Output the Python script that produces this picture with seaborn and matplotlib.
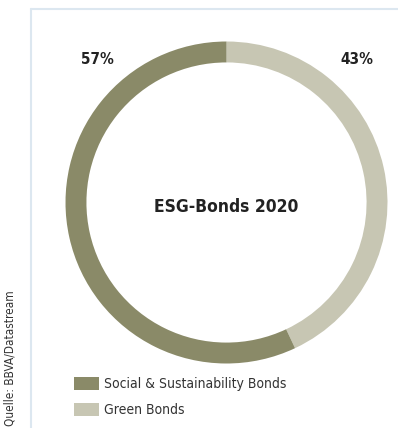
import matplotlib
matplotlib.use("Agg")
import matplotlib.pyplot as plt
import seaborn as sns
from matplotlib.patches import Rectangle
from matplotlib.lines import Line2D

categories = ["Social & Sustainability Bonds", "Green Bonds"]
values = [57, 43]
pct_labels = ["57%", "43%"]
title = "ESG-Bonds 2020"
source = "Quelle: BBVA/Datastream"

sns.set_theme(style="white")
FONT = ["DejaVu Sans"]
plt.rcParams["font.family"] = FONT
plt.rcParams["font.stretch"] = "condensed"
colors = ["#8a8a68", "#c7c6b3"]

W, H = 398, 428
fig = plt.figure(figsize=(W / 100, H / 100), dpi=100)
fig.patch.set_facecolor("white")

frame_col = "#dce7f0"
fig.add_artist(Line2D([31 / W, 1], [1 - 9 / H, 1 - 9 / H], color=frame_col, lw=1.5))
fig.add_artist(Line2D([31 / W, 31 / W], [0, 1 - 9 / H], color=frame_col, lw=1.5))

cx, cy, R = 226.5, 202.5, 161
ax = fig.add_axes([(cx - R) / W, (H - cy - R) / H, 2 * R / W, 2 * R / H])
pal = sns.color_palette(colors)
ax.pie(values[::-1], colors=pal[::-1], startangle=90, counterclock=False,
       radius=1, wedgeprops=dict(width=0.13, edgecolor="none"))
ax.set_xlim(-1, 1)
ax.set_ylim(-1, 1)
ax.set_aspect("equal")
ax.axis("off")

kw = dict(family=FONT, fontstretch="condensed")
ax.text(0, -0.03, title, ha="center", va="center", fontsize=12.5, fontweight="bold",
        color="#222222", **kw)

fig.text(97 / W, 1 - 60 / H, pct_labels[0], ha="center", va="center", fontsize=11,
         fontweight="bold", color="#222222", **kw)
fig.text(357 / W, 1 - 60 / H, pct_labels[1], ha="center", va="center", fontsize=11,
         fontweight="bold", color="#222222", **kw)

for i, (cat, col) in enumerate(zip(categories, colors)):
    top = 377 + i * 26
    fig.add_artist(Rectangle((74 / W, 1 - (top + 13) / H), 25 / W, 13 / H,
                             facecolor=col, edgecolor="none", transform=fig.transFigure))
    fig.text(104 / W, 1 - (top + 7) / H, cat, ha="left", va="center", fontsize=10,
             color="#333333", **kw)

fig.text(10 / W, 1 - 426 / H, source, rotation=90, ha="center", va="bottom",
         fontsize=8.5, color="#333333", **kw)

fig.savefig("out.png", dpi=100)
